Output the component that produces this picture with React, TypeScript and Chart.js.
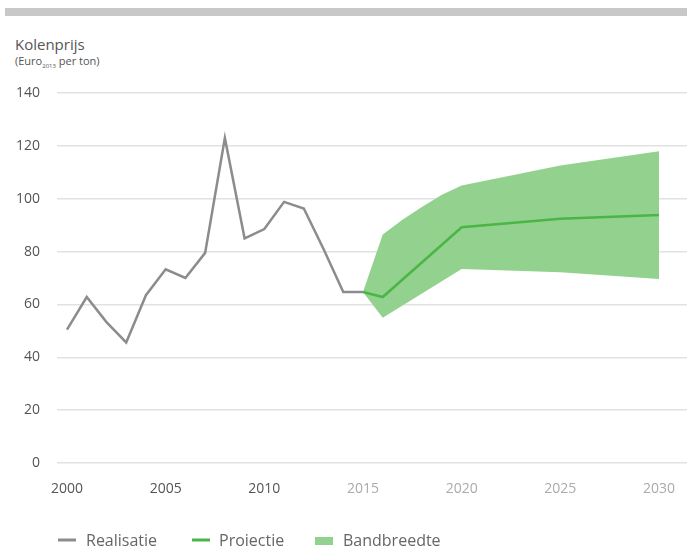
import React, { useEffect, useRef } from "react";
import { Chart, registerables } from "chart.js";

Chart.register(...registerables);

const realYears = [2000, 2001, 2002, 2003, 2004, 2005, 2006, 2007, 2008, 2009, 2010, 2011, 2012, 2013, 2014, 2015];
const realValues = [50.5, 62.8, 53.3, 45.6, 63.5, 73.3, 70, 79.5, 123, 85, 88.5, 98.8, 96.3, 81, 64.7, 64.7];

const projYears = [2015, 2016, 2020, 2025, 2030];
const projValues = [64.7, 62.8, 89.2, 92.4, 93.8];

const bandUpperYears = [2015, 2016, 2017, 2018, 2019, 2020, 2025, 2030];
const bandUpperValues = [64.7, 86.5, 92, 97, 101.5, 105, 112.6, 118];

const bandLowerYears = [2015, 2016, 2020, 2025, 2030];
const bandLowerValues = [64.7, 55, 73.4, 72.2, 69.6];

const xTicks = [2000, 2005, 2010, 2015, 2020, 2025, 2030];
const xTickColors = ["#555555", "#555555", "#555555", "#aaaaaa", "#aaaaaa", "#aaaaaa", "#aaaaaa"];

const legendItems = [
  { label: "Realisatie", color: "#8c8c8c", kind: "line" },
  { label: "Projectie", color: "#4bb545", kind: "line" },
  { label: "Bandbreedte", color: "#93d28e", kind: "box" },
];

const FONT = "'Open Sans', 'DejaVu Sans', sans-serif";

function toXY(xs: number[], ys: number[]) {
  return xs.map((x, i) => ({ x, y: ys[i] }));
}

export default function App() {
  const ref = useRef<HTMLCanvasElement | null>(null);

  useEffect(() => {
    if (!ref.current) return;
    const legendPlugin = {
      id: "customLegend",
      afterDraw(chart: any) {
        const ctx = chart.ctx;
        ctx.save();
        ctx.font = `16px ${FONT}`;
        ctx.textBaseline = "alphabetic";
        const starts = [58, 192, 315];
        const textStarts = [86, 219, 343];
        legendItems.forEach((it, i) => {
          const x = starts[i];
          ctx.fillStyle = it.color;
          if (it.kind === "line") {
            ctx.fillRect(x, 538.5, 18, 3);
          } else {
            ctx.fillRect(x, 537, 18, 8);
          }
          ctx.fillStyle = "#666666";
          ctx.fillText(it.label, textStarts[i], 546);
        });
        ctx.restore();
      },
    };

    const chart = new Chart(ref.current, {
      type: "line",
      data: {
        datasets: [
          {
            label: "Realisatie",
            data: toXY(realYears, realValues),
            borderColor: "#8c8c8c",
            borderWidth: 2.5,
            pointRadius: 0,
            tension: 0,
            fill: false,
            order: 1,
          },
          {
            label: "Projectie",
            data: toXY(projYears, projValues),
            borderColor: "#4bb545",
            borderWidth: 2.5,
            pointRadius: 0,
            tension: 0,
            fill: false,
            order: 1,
          },
          {
            label: "Bandbreedte",
            data: toXY(bandUpperYears, bandUpperValues),
            borderColor: "rgba(0,0,0,0)",
            borderWidth: 0,
            backgroundColor: "#93d28e",
            pointRadius: 0,
            tension: 0,
            fill: "+1",
            order: 3,
          },
          {
            label: "Bandbreedte onder",
            data: toXY(bandLowerYears, bandLowerValues),
            borderColor: "rgba(0,0,0,0)",
            borderWidth: 0,
            pointRadius: 0,
            tension: 0,
            fill: false,
            order: 3,
          },
        ],
      },
      options: {
        animation: false,
        responsive: false,
        maintainAspectRatio: false,
        layout: { padding: { top: 93, left: 0, right: 0, bottom: 0 } },
        plugins: {
          legend: { display: false },
          tooltip: { enabled: false },
        },
        scales: {
          x: {
            type: "linear",
            min: 1999.493,
            max: 2031.419,
            afterBuildTicks(scale: any) {
              scale.ticks = xTicks.map((v) => ({ value: v }));
            },
            afterFit(scale: any) {
              scale.height = 83;
              scale.paddingLeft = 0;
              scale.paddingRight = 0;
            },
            grid: { display: false, drawTicks: false },
            border: { display: false },
            ticks: {
              padding: 18,
              maxRotation: 0,
              autoSkip: false,
              font: { family: FONT, size: 14 },
              color: (c: any) => xTickColors[c.index] || "#aaaaaa",
              callback: (v: any) => String(v),
            },
          },
          y: {
            min: 0,
            max: 140,
            afterFit(scale: any) {
              scale.width = 57;
            },
            grid: { color: "#e2e2e2", lineWidth: 1.5, drawTicks: false },
            border: { display: false },
            ticks: {
              stepSize: 20,
              padding: 17,
              font: { family: FONT, size: 14 },
              color: "#555555",
            },
          },
        },
      },
      plugins: [legendPlugin],
    } as any);
    return () => chart.destroy();
  }, []);

  return (
    <div style={{ position: "fixed", left: 0, top: 0, width: 687, height: 546, background: "#fff", overflow: "hidden" }}>
      <div style={{ position: "absolute", left: 5, top: 8, width: 682, height: 8, background: "#c8c8c8" }} />
      <div style={{ position: "absolute", left: 15, top: 34, fontFamily: FONT, fontSize: 15, color: "#555", lineHeight: "20px" }}>
        Kolenprijs
      </div>
      <div style={{ position: "absolute", left: 15, top: 54, fontFamily: FONT, fontSize: 11, color: "#555", lineHeight: "14px" }}>
        (Euro<sub style={{ fontSize: 6 }}>2013</sub> per ton)
      </div>
      <canvas ref={ref} width={687} height={546} style={{ position: "absolute", left: 0, top: 0, width: 687, height: 546 }} />
    </div>
  );
}
